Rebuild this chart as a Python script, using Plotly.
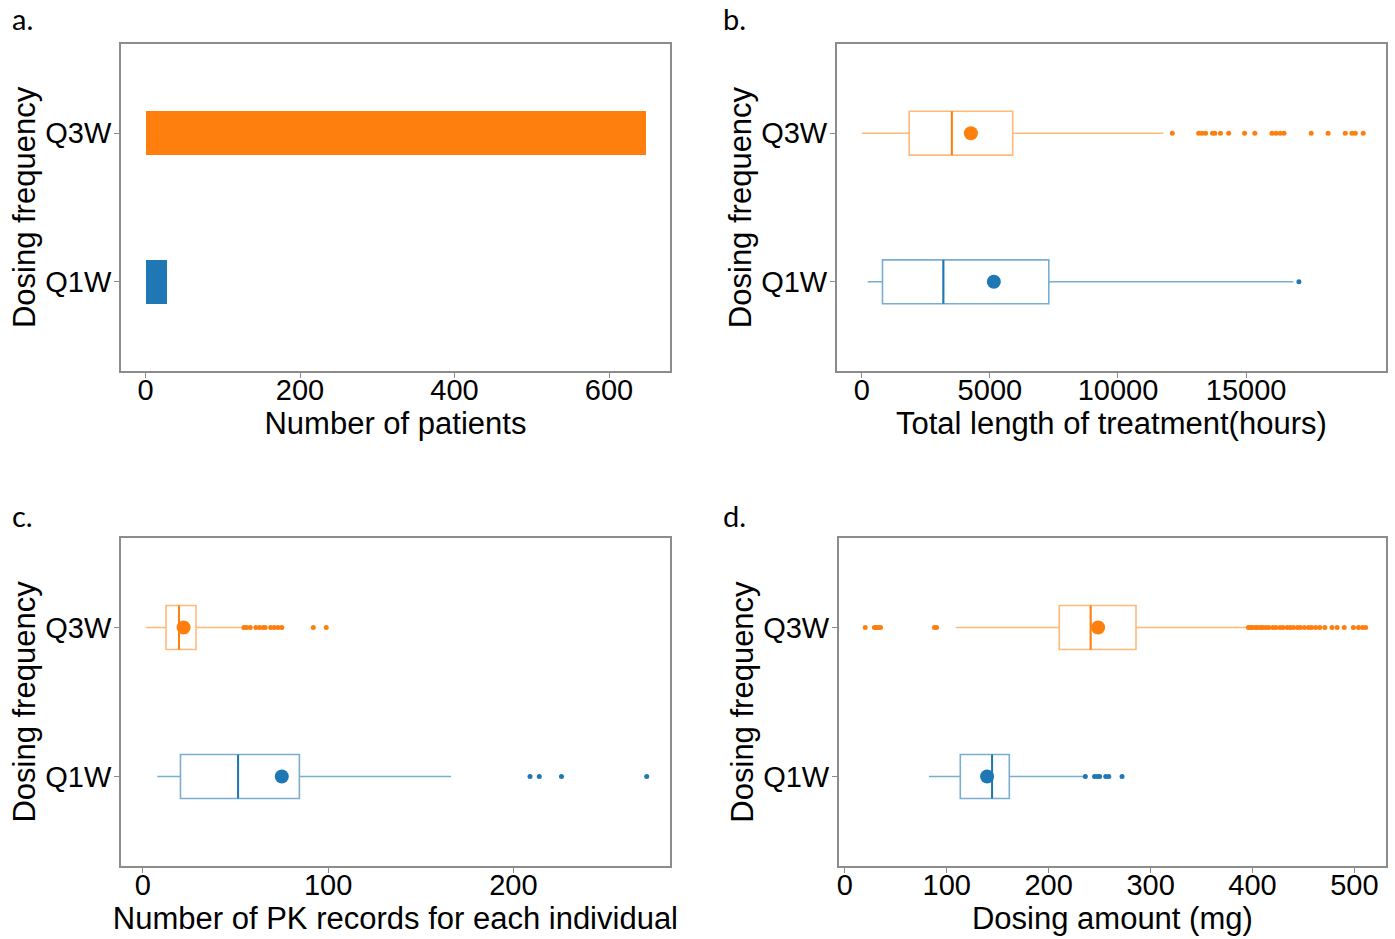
import plotly.graph_objects as go

categories = ["Q1W", "Q3W"]
cat_pos = [0, 1]
colors = ["#1f77b4", "#ff7f0e"]
box_line = ["rgba(31,119,180,0.6)", "rgba(255,127,14,0.55)"]

# Panel a: number of patients
n_patients = [27, 648]

# Panel b: total length of treatment (hours)
b_q1 = [809, 1851]
b_med = [3185, 3515]
b_q3 = [7300, 5892]
b_lo = [231, 0]
b_hi = [16840, 11770]
b_mean = [5155, 4259]
b_out = [
    [17060],
    [12120, 13150, 13280, 13420, 13690, 13780, 14000, 14320, 14940, 15340,
     16010, 16170, 16330, 16480, 17540, 18200, 18870, 19130, 19260, 19570],
]

# Panel c: number of PK records per individual
c_q1 = [20.3, 12.5]
c_med = [51.4, 19.5]
c_q3 = [84.5, 28.7]
c_lo = [7.8, 1.6]
c_hi = [166.4, 53]
c_mean = [75, 22]
c_out = [
    [209, 214, 226, 272],
    [54.5, 56, 58, 61, 63, 65, 66, 69, 71, 73, 75, 92, 99],
]

# Panel d: dosing amount (mg)
d_q1 = [113.3, 210.4]
d_med = [144.5, 241.2]
d_q3 = [161.4, 285.7]
d_lo = [82.5, 108.8]
d_hi = [235.6, 395.2]
d_mean = [139.6, 248.5]
d_out = [
    [236, 245, 248, 250, 256, 259, 272],
    [20, 29, 31, 33, 35, 88, 90,
     396, 398, 400, 403, 405, 408, 410, 413, 416, 420, 423, 427, 430, 434, 437,
     440, 444, 447, 451, 455, 458, 462, 466, 471, 478, 483, 490, 499, 504, 508, 511],
]

x_titles = ["Number of patients", "Total length of treatment(hours)",
            "Number of PK records for each individual", "Dosing amount (mg)"]
x_ranges = [[-32, 679], [-974, 20460], [-11.9, 284.6], [-5.9, 531]]
x_ticks = [[0, 200, 400, 600], [0, 5000, 10000, 15000], [0, 100, 200],
           [0, 100, 200, 300, 400, 500]]
panel_labels = ["a.", "b.", "c.", "d."]

W, H = 1395, 939
frames = [(119, 669, 44, 371), (836, 1386, 44, 371), (119, 669, 538, 866), (838, 1386, 538, 866)]
BW = 0.295

fig = go.Figure()

# panel a bars
for i in range(2):
    fig.add_trace(go.Bar(x=[n_patients[i]], y=[cat_pos[i]], orientation="h", width=BW,
                         marker=dict(color=colors[i], line=dict(width=0)),
                         xaxis="x", yaxis="y", showlegend=False))

box_sets = [
    (b_q1, b_med, b_q3, b_lo, b_hi, b_mean, b_out),
    (c_q1, c_med, c_q3, c_lo, c_hi, c_mean, c_out),
    (d_q1, d_med, d_q3, d_lo, d_hi, d_mean, d_out),
]
for k, (q1, med, q3, lo, hi, mean, out) in enumerate(box_sets):
    ax = str(k + 2)
    for i in range(2):
        fig.add_trace(go.Box(y=[cat_pos[i]], q1=[q1[i]], median=[med[i]], q3=[q3[i]],
                             lowerfence=[lo[i]], upperfence=[hi[i]], orientation="h",
                             boxpoints=False, width=BW, whiskerwidth=0,
                             line=dict(color=box_line[i], width=1.6),
                             fillcolor="rgba(255,255,255,0)",
                             xaxis="x" + ax, yaxis="y" + ax, showlegend=False,
                             hoverinfo="skip"))
        # median emphasised
        fig.add_trace(go.Scatter(x=[med[i], med[i]], y=[cat_pos[i] - BW / 2, cat_pos[i] + BW / 2],
                                 mode="lines", line=dict(color=colors[i], width=2),
                                 xaxis="x" + ax, yaxis="y" + ax, showlegend=False))
        fig.add_trace(go.Scatter(x=out[i], y=[cat_pos[i]] * len(out[i]), mode="markers",
                                 marker=dict(color=colors[i], size=5),
                                 xaxis="x" + ax, yaxis="y" + ax, showlegend=False))
        fig.add_trace(go.Scatter(x=[mean[i]], y=[cat_pos[i]], mode="markers",
                                 marker=dict(color=colors[i], size=14),
                                 xaxis="x" + ax, yaxis="y" + ax, showlegend=False))

font_main = "Liberation Sans, Arial, sans-serif"
layout = dict(width=W, height=H, margin=dict(l=0, r=0, t=0, b=0),
              paper_bgcolor="white", plot_bgcolor="white",
              font=dict(family=font_main, color="black", size=29), bargap=0)
annotations = []
for k in range(4):
    x0, x1, y0, y1 = frames[k]
    sfx = "" if k == 0 else str(k + 1)
    layout["xaxis" + sfx] = dict(
        domain=[x0 / W, x1 / W], range=x_ranges[k], tickvals=x_ticks[k],
        tickformat="d",
        anchor="y" + sfx, showgrid=False, zeroline=False,
        showline=True, linecolor="#8c8c8c", linewidth=1.5, mirror=True,
        ticks="outside", ticklen=5, tickcolor="#8c8c8c", ticklabelstandoff=-13,
        tickfont=dict(size=29), title=dict(text=x_titles[k], font=dict(size=31), standoff=2))
    layout["yaxis" + sfx] = dict(
        domain=[1 - y1 / H, 1 - y0 / H], range=[-0.6, 1.6],
        tickvals=cat_pos, ticktext=categories,
        anchor="x" + sfx, showgrid=False, zeroline=False,
        showline=True, linecolor="#8c8c8c", linewidth=1.5, mirror=True,
        ticks="outside", ticklen=5, tickcolor="#8c8c8c", ticklabelstandoff=-3,
        tickfont=dict(size=29), title=dict(text="Dosing frequency", font=dict(size=31), standoff=0))
    annotations.append(dict(text=panel_labels[k], x=(8 if k % 2 == 0 else 720) / W,
                            y=1 - (18 if k < 2 else 515) / H, xref="paper", yref="paper",
                            xanchor="left", yanchor="middle", showarrow=False,
                            font=dict(size=29, family="Lato, Open Sans, sans-serif")))
layout["annotations"] = annotations
fig.update_layout(**layout)
fig.write_html("out.html")
